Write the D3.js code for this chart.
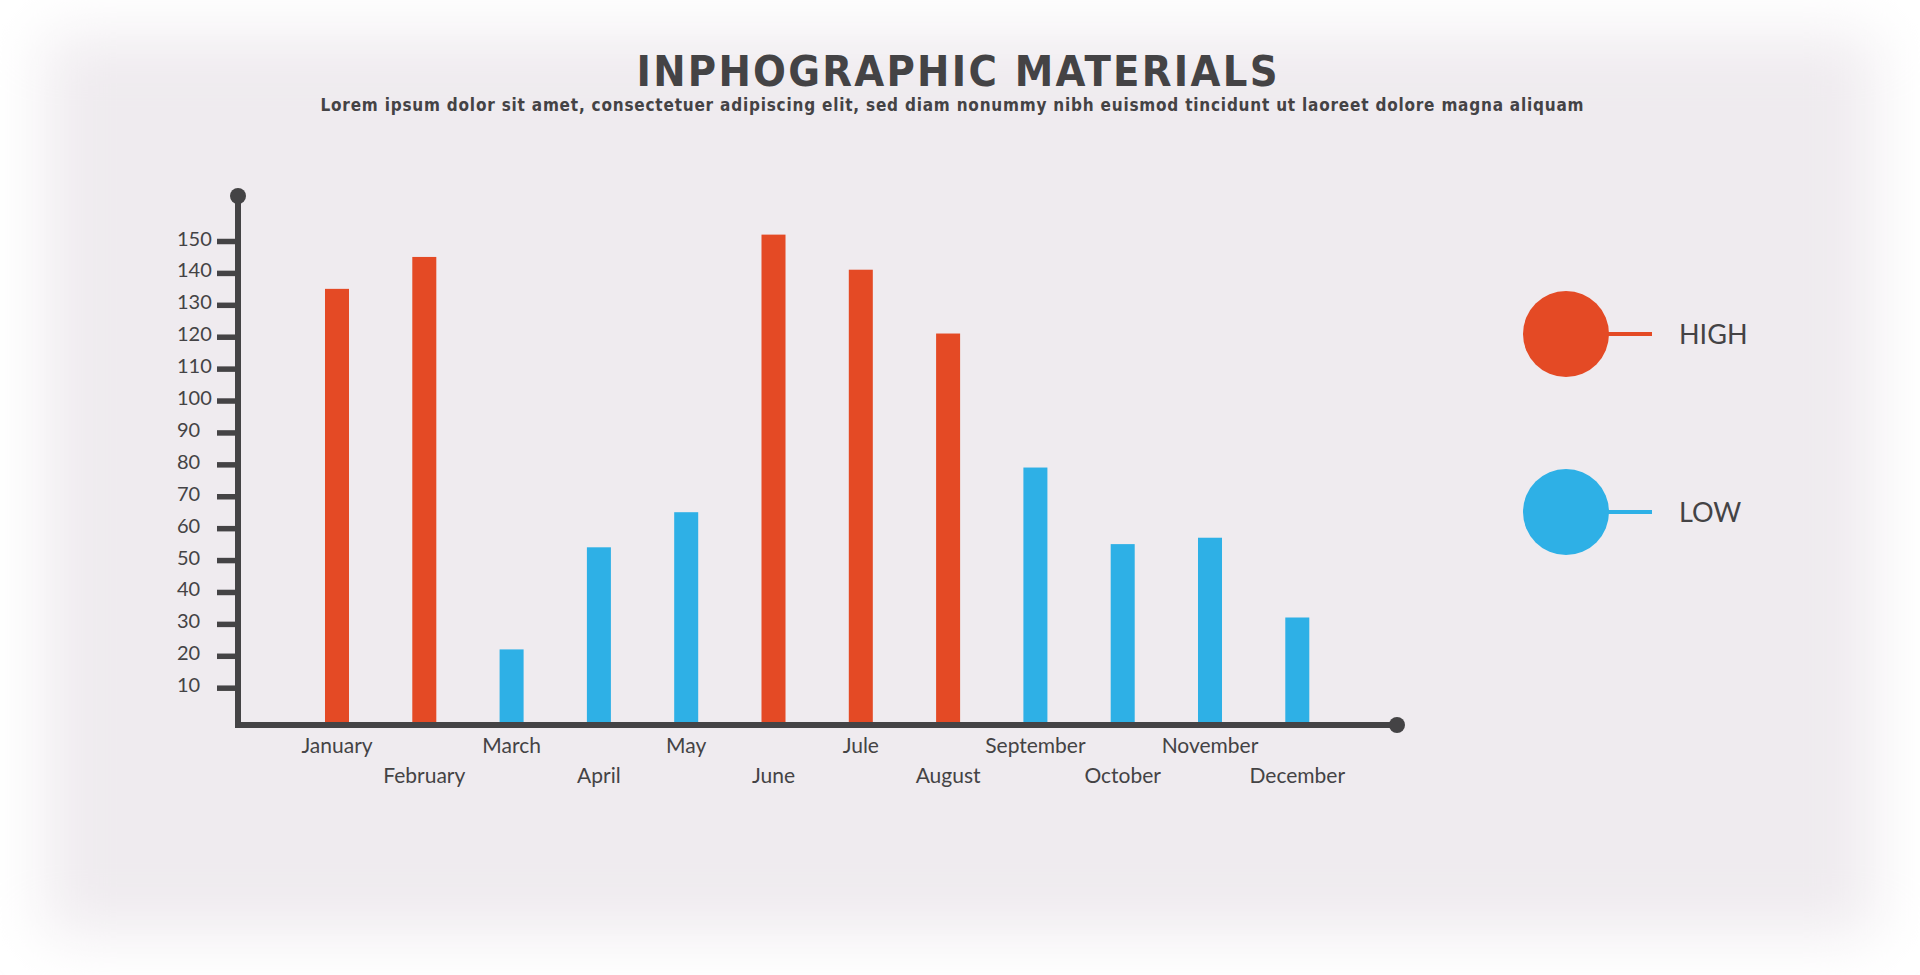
<!DOCTYPE html>
<html>
<head>
<meta charset="utf-8">
<script src="https://cdn.jsdelivr.net/npm/d3@7"></script>
<style>
  body { margin: 0; background: #fff; }
  svg { display: block; }
</style>
</head>
<body>
<svg id="chart" width="1920" height="975"></svg>
<script>
// data
var months = ["January", "February", "March", "April", "May", "June",
              "Jule", "August", "September", "October", "November", "December"];
var values = [135, 145, 22, 54, 65, 152, 141, 121, 79, 55, 57, 32];
var levels = ["high", "high", "low", "low", "low", "high",
              "high", "high", "low", "low", "low", "low"];
var yTicks = [10, 20, 30, 40, 50, 60, 70, 80, 90, 100, 110, 120, 130, 140, 150];
var legendNames = ["HIGH", "LOW"];

var colors = { high: "#E44A25", low: "#2EB0E6" };
var dark = "#444345";
var labelFont = "Lato, 'Open Sans', sans-serif";
var headFont = "'DejaVu Sans Condensed', sans-serif";

var canvas = d3.select("#chart");

// soft background panel with white blurred edges
var defs = canvas.append("defs");
defs.append("filter")
    .attr("id", "soft")
    .attr("x", "-10%").attr("y", "-10%")
    .attr("width", "120%").attr("height", "120%")
  .append("feGaussianBlur")
    .attr("stdDeviation", 30);
canvas.append("rect")
    .attr("width", 1920).attr("height", 975)
    .attr("fill", "#fff");
canvas.append("rect")
    .attr("x", 45).attr("y", 35)
    .attr("width", 1830).attr("height", 900)
    .attr("fill", "#EFEBEF")
    .attr("filter", "url(#soft)");

// title
canvas.append("text")
    .attr("x", 957).attr("y", 86)
    .attr("text-anchor", "middle")
    .attr("font-family", headFont)
    .attr("font-weight", "bold")
    .attr("font-size", "43px")
    .attr("fill", dark)
    .attr("textLength", 641)
    .attr("lengthAdjust", "spacing")
    .text("INPHOGRAPHIC MATERIALS");
canvas.append("text")
    .attr("x", 952).attr("y", 111)
    .attr("text-anchor", "middle")
    .attr("font-family", headFont)
    .attr("font-weight", "bold")
    .attr("font-size", "17px")
    .attr("fill", dark)
    .attr("textLength", 1263)
    .attr("lengthAdjust", "spacing")
    .text("Lorem ipsum dolor sit amet, consectetuer adipiscing elit, sed diam nonummy nibh euismod tincidunt ut laoreet dolore magna aliquam");

// scales
var axisX = 238, axisY = 725, axisTop = 196, axisRight = 1397;
var x = d3.scaleBand()
    .domain(months)
    .range([293.35, 1340.95])
    .paddingInner(0.725)
    .paddingOuter(0.3625);
var y = d3.scaleLinear()
    .domain([0, 150])
    .range([719.6, 241]);

// bars
canvas.append("g").selectAll("rect")
    .data(months)
    .enter().append("rect")
    .attr("x", function (d) { return x(d); })
    .attr("y", function (d, i) { return y(values[i]); })
    .attr("width", x.bandwidth())
    .attr("height", function (d, i) { return axisY - y(values[i]); })
    .attr("fill", function (d, i) { return colors[levels[i]]; });

// y axis
var yAxis = canvas.append("g")
    .attr("transform", "translate(" + axisX + ",0)")
    .call(d3.axisLeft(y).tickValues(yTicks).tickSize(21).tickPadding(0));
yAxis.select(".domain").remove();
yAxis.selectAll(".tick line")
    .attr("stroke", dark)
    .attr("stroke-width", 5.5);
yAxis.selectAll(".tick text")
    .attr("x", -61)
    .attr("dy", "0.2em")
    .attr("text-anchor", "start")
    .attr("font-family", labelFont)
    .attr("font-size", "20px")
    .attr("fill", dark);

canvas.append("line")
    .attr("x1", axisX).attr("x2", axisX)
    .attr("y1", axisTop).attr("y2", axisY + 3)
    .attr("stroke", dark)
    .attr("stroke-width", 6);
canvas.append("circle")
    .attr("cx", axisX).attr("cy", axisTop)
    .attr("r", 8)
    .attr("fill", dark);

// x axis
var xAxis = canvas.append("g")
    .attr("transform", "translate(0," + axisY + ")")
    .call(d3.axisBottom(x).tickSize(0).tickPadding(0));
xAxis.select(".domain").remove();
xAxis.selectAll(".tick text")
    .attr("y", function (d, i) { return i % 2 == 0 ? 28 : 58; })
    .attr("dy", 0)
    .attr("font-family", labelFont)
    .attr("font-size", "21px")
    .attr("fill", dark);

canvas.append("line")
    .attr("x1", axisX - 3).attr("x2", axisRight)
    .attr("y1", axisY).attr("y2", axisY)
    .attr("stroke", dark)
    .attr("stroke-width", 6);
canvas.append("circle")
    .attr("cx", axisRight).attr("cy", axisY)
    .attr("r", 8)
    .attr("fill", dark);

// legend
var legendTop = 334;
var legendGap = 178;
legendNames.forEach(function (name, i) {
    var cy = legendTop + i * legendGap;
    var c = i == 0 ? colors.high : colors.low;
    canvas.append("line")
        .attr("x1", 1600).attr("x2", 1652)
        .attr("y1", cy).attr("y2", cy)
        .attr("stroke", c)
        .attr("stroke-width", 4);
    canvas.append("circle")
        .attr("cx", 1566).attr("cy", cy)
        .attr("r", 43)
        .attr("fill", c);
    canvas.append("text")
        .attr("x", 1679).attr("y", cy + 10)
        .attr("font-family", labelFont)
        .attr("font-size", "27px")
        .attr("fill", dark)
        .text(name);
});
</script>
</body>
</html>
